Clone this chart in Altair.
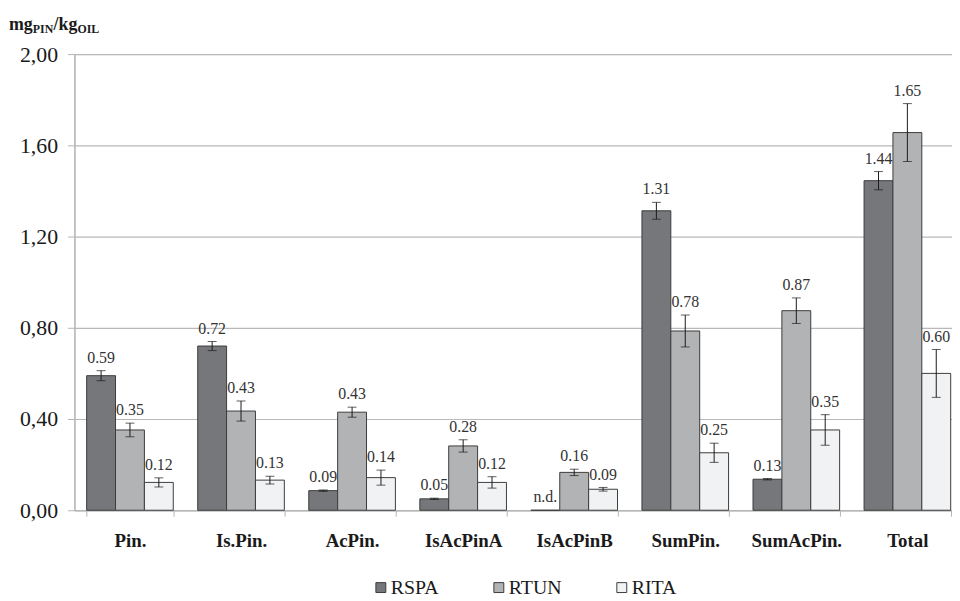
import altair as alt
import pandas as pd

categories = ["Pin.", "Is.Pin.", "AcPin.", "IsAcPinA", "IsAcPinB", "SumPin.", "SumAcPin.", "Total"]
series = ["RSPA", "RTUN", "RITA"]
colors = ["#76777a", "#b2b3b5", "#f1f2f3"]

rspa = [0.59, 0.72, 0.086, 0.05, 0.0, 1.313, 0.136, 1.445]
rtun = [0.352, 0.435, 0.43, 0.282, 0.166, 0.786, 0.875, 1.656]
rita = [0.122, 0.132, 0.143, 0.122, 0.092, 0.252, 0.352, 0.60]

rspa_err = [0.022, 0.02, 0.003, 0.003, 0.0, 0.037, 0.003, 0.04]
rtun_err = [0.03, 0.044, 0.022, 0.027, 0.014, 0.07, 0.056, 0.127]
rita_err = [0.02, 0.017, 0.033, 0.025, 0.008, 0.042, 0.067, 0.105]

rspa_lbl = ["0.59", "0.72", "0.09", "0.05", "n.d.", "1.31", "0.13", "1.44"]
rtun_lbl = ["0.35", "0.43", "0.43", "0.28", "0.16", "0.78", "0.87", "1.65"]
rita_lbl = ["0.12", "0.13", "0.14", "0.12", "0.09", "0.25", "0.35", "0.60"]

y_ticks = [0.0, 0.4, 0.8, 1.2, 1.6, 2.0]

rows = []
for s, vals, errs, lbls in [("RSPA", rspa, rspa_err, rspa_lbl),
                            ("RTUN", rtun, rtun_err, rtun_lbl),
                            ("RITA", rita, rita_err, rita_lbl)]:
    for c, v, e, l in zip(categories, vals, errs, lbls):
        rows.append({"cat": c, "series": s, "val": v, "err": e,
                     "lo": v - e, "hi": v + e, "lbl": l})
df = pd.DataFrame(rows)

SERIF = "Liberation Serif, Times New Roman, serif"

x_enc = alt.X("cat:N", sort=categories, title=None,
              scale=alt.Scale(paddingInner=0.22, paddingOuter=0.11),
              axis=alt.Axis(labelFont=SERIF, labelFontWeight="bold", labelFontSize=19,
                            labelColor="#1a1a1a", labelAngle=0, labelPadding=16,
                            tickBand="extent", tickSize=6, tickColor="#b5b5b5",
                            domainColor="#b5b5b5", domainWidth=1.5, grid=False))
xo_enc = alt.XOffset("series:N", sort=series,
                     scale=alt.Scale(domain=series, paddingInner=0, paddingOuter=0))
y_scale = alt.Scale(domain=[0, 2], nice=False)

base = alt.Chart(df).encode(x=x_enc, xOffset=xo_enc)

bars = base.mark_bar(stroke="#3c3c3c", strokeWidth=1).encode(
    y=alt.Y("val:Q", scale=y_scale, title=None,
            axis=alt.Axis(values=y_ticks, format=".2f",
                          labelExpr="replace(datum.label, '.', ',')",
                          labelFont=SERIF, labelFontSize=22, labelColor="#1a1a1a",
                          labelPadding=10, tickSize=7, tickColor="#b5b5b5",
                          domainColor="#b5b5b5", domainWidth=1.5,
                          grid=True, gridColor="#b8b8b8", gridWidth=1.2)),
    color=alt.Color("series:N", sort=series,
                    scale=alt.Scale(domain=series, range=colors),
                    legend=alt.Legend(title=None, orient="none", legendX=299, legendY=528,
                                      direction="horizontal", symbolType="square",
                                      symbolSize=100, symbolStrokeColor="#3c3c3c",
                                      symbolStrokeWidth=1, symbolOpacity=1,
                                      labelFont=SERIF, labelFontSize=20,
                                      labelColor="#1a1a1a", labelOffset=0,
                                      gridAlign="each", columnPadding=50)),
)

err_rule = base.mark_rule(color="#1a1a1a", strokeWidth=1).encode(
    y=alt.Y("lo:Q", scale=y_scale), y2="hi:Q"
).transform_filter("datum.err > 0")

cap_hi = base.mark_tick(color="#1a1a1a", thickness=1, size=9).encode(
    y=alt.Y("hi:Q", scale=y_scale)
).transform_filter("datum.err > 0")

cap_lo = base.mark_tick(color="#1a1a1a", thickness=1, size=9).encode(
    y=alt.Y("lo:Q", scale=y_scale)
).transform_filter("datum.err > 0")

labels = base.mark_text(font=SERIF, fontSize=16, color="#333333",
                        baseline="alphabetic", dy=-8).encode(
    y=alt.Y("hi:Q", scale=y_scale), text="lbl:N"
)

title_main = ["mg", "/kg"]
title_sub = ["PIN", "OIL"]
t1 = alt.Chart(pd.DataFrame({"t": [title_main[0]]})).mark_text(
    font=SERIF, fontWeight="bold", fontSize=18, align="left", baseline="alphabetic",
    color="#1a1a1a").encode(text="t:N", x=alt.value(-66), y=alt.value(-24))
t2 = alt.Chart(pd.DataFrame({"t": [title_sub[0]]})).mark_text(
    font=SERIF, fontWeight="bold", fontSize=12, align="left", baseline="alphabetic",
    color="#1a1a1a").encode(text="t:N", x=alt.value(-42), y=alt.value(-21.5))
t3 = alt.Chart(pd.DataFrame({"t": [title_main[1]]})).mark_text(
    font=SERIF, fontWeight="bold", fontSize=18, align="left", baseline="alphabetic",
    color="#1a1a1a").encode(text="t:N", x=alt.value(-21), y=alt.value(-24))
t4 = alt.Chart(pd.DataFrame({"t": [title_sub[1]]})).mark_text(
    font=SERIF, fontWeight="bold", fontSize=12, align="left", baseline="alphabetic",
    color="#1a1a1a").encode(text="t:N", x=alt.value(3), y=alt.value(-21.5))

chart = alt.layer(bars, err_rule, cap_hi, cap_lo, labels, t1, t2, t3, t4).properties(
    width=896, height=460,
    autosize=alt.AutoSizeParams(type="none"),
    padding={"left": 67, "top": 44, "right": -11, "bottom": 86},
).configure_view(stroke=None).configure(background="white", font=SERIF)

chart.save("out.html", embed_options={"renderer": "svg", "actions": False})
